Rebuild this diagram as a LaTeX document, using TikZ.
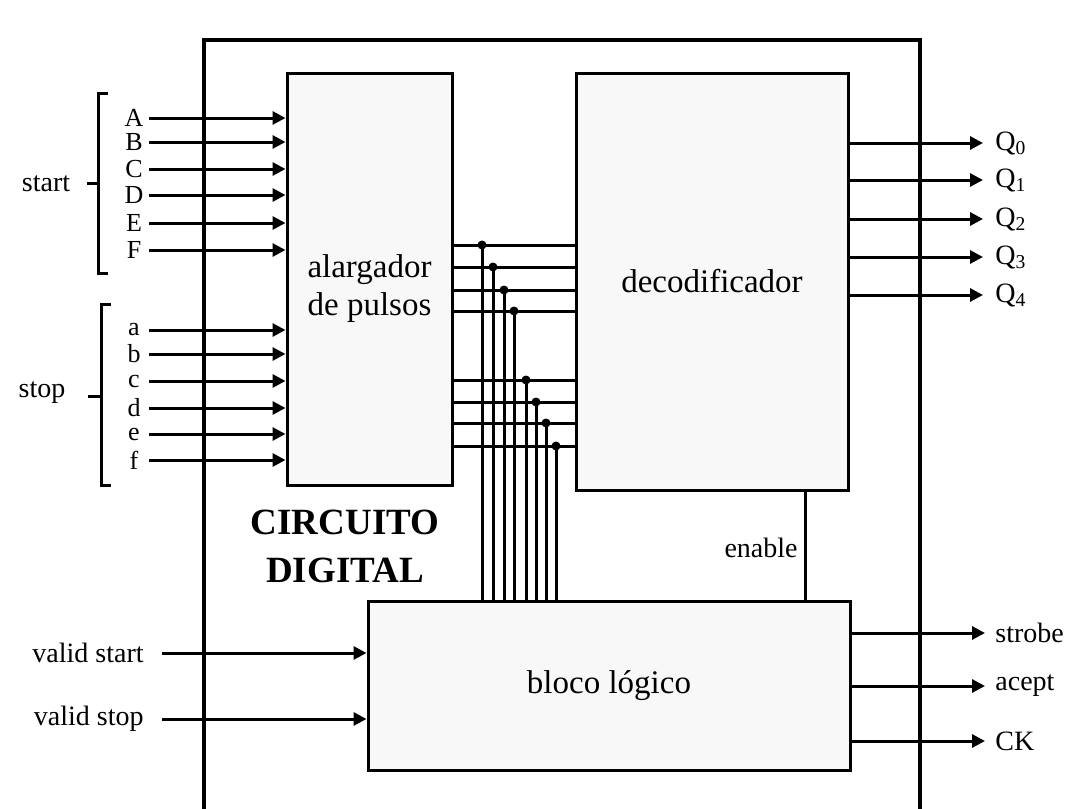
\documentclass[tikz,border=0pt]{standalone}
\usepackage{fontspec}
\setmainfont{Liberation Serif}
\usetikzlibrary{positioning,arrows.meta,calc}
\definecolor{colbox}{rgb}{0.973,0.973,0.973}

\begin{document}
\begin{tikzpicture}[x=0.5pt,y=-0.5pt,
    wire/.style={line width=1.5pt},
    sig/.style={wire,-{Triangle[length=6.5pt,width=6.5pt]}},
    blk/.style={draw,line width=1.5pt,fill=colbox,inner sep=0pt,align=center,
      font=\fontsize{16.5}{19}\selectfont},
    lbl/.style={inner sep=1pt,font=\fontsize{14}{16}\selectfont},
    pin/.style={inner sep=0pt,minimum width=15pt,font=\fontsize{13}{14}\selectfont},
    jdot/.style={circle,fill,inner sep=0pt,minimum size=4.5pt}]
  \useasboundingbox (0,0) rectangle (1073,809);
  % frame of the circuit
  \draw[line width=2pt] (204,815) -- (204,40) -- (920,40) -- (920,815);
  % blocks
  \node[blk,minimum width=82.5pt,minimum height=206pt] (alarg) at (369.5,279) {};
  \node[align=center,font=\fontsize{16.5}{19}\selectfont] (alargtxt) at (369.5,289) {alargador\\de pulsos};
  \node[blk,minimum width=136pt,minimum height=208.5pt] (decod) at (712,281.5) {decodificador};
  \node[blk,minimum width=241pt,minimum height=84.5pt] (bloco) at (609,685.5) {bloco l\'ogico};
  \node[align=center,font=\fontsize{18.5}{24}\bfseries] (circ) at (345,546) {CIRCUITO\\DIGITAL};
  % start inputs
  \foreach \n/\y in {A/118,B/142,C/169,D/195,E/223,F/250} {
    \node[pin] (in\n) at (134,\y) {\n};
    \draw[sig] (in\n.east) -- (in\n.east -| alarg.west);
  }
  \node[lbl] (start) at (46,184) {start};
  \draw[wire] (108,93) -- (98,93) -- (98,273) -- (108,273);
  \draw[wire] (87,183) -- (98,183);
  % stop inputs
  \foreach \n/\y in {a/330,b/354,c/381,d/408,e/434,f/460} {
    \node[pin] (in\n) at (134,\y) {\n};
    \draw[sig] (in\n.east) -- (in\n.east -| alarg.west);
  }
  \node[lbl] (stop) at (42,393) {stop};
  \draw[wire] (111,304) -- (101,304) -- (101,485) -- (111,485);
  \draw[wire] (88,396) -- (101,396);
  % bus between the blocks
  \foreach \y/\x [count=\i] in {245/482,267/493,290/504,311/514,380/526,402/536,423/546,446/556} {
    \draw[wire] (alarg.east |- 0,\y) -- (decod.west |- 0,\y);
    \node[jdot] (j\i) at (\x,\y) {};
    \draw[wire] (j\i.center) -- (j\i.center |- bloco.north);
  }
  % enable
  \node[lbl,anchor=east] (enab) at (800,548) {enable};
  \coordinate (en) at (805,0);
  \draw[wire] (decod.south -| en) -- (bloco.north -| en);
  % outputs of the decoder
  \foreach \i/\y in {0/143,1/180,2/219,3/257,4/295} {
    \node[lbl,anchor=west,inner xsep=6pt] (q\i) at (983,\y) {Q\textsubscript{\i}};
    \draw[sig] (decod.east |- q\i) -- (q\i.west);
  }
  % logic block
  \foreach \s/\t/\y in {vstart/valid start/653,vstop/valid stop/719} {
    \node[lbl,anchor=east,inner xsep=9pt] (\s) at (162,\y) {\t};
    \draw[sig] (\s.east) -- (\s.east -| bloco.west);
  }
  \foreach \s/\t/\y in {strobe/strobe/633,acept/acept/686,ck/CK/741} {
    \node[lbl,anchor=west,inner xsep=5pt] (\s) at (985,\y) {\t};
    \draw[sig] (bloco.east |- \s) -- (\s.west);
  }
\end{tikzpicture}
\end{document}
